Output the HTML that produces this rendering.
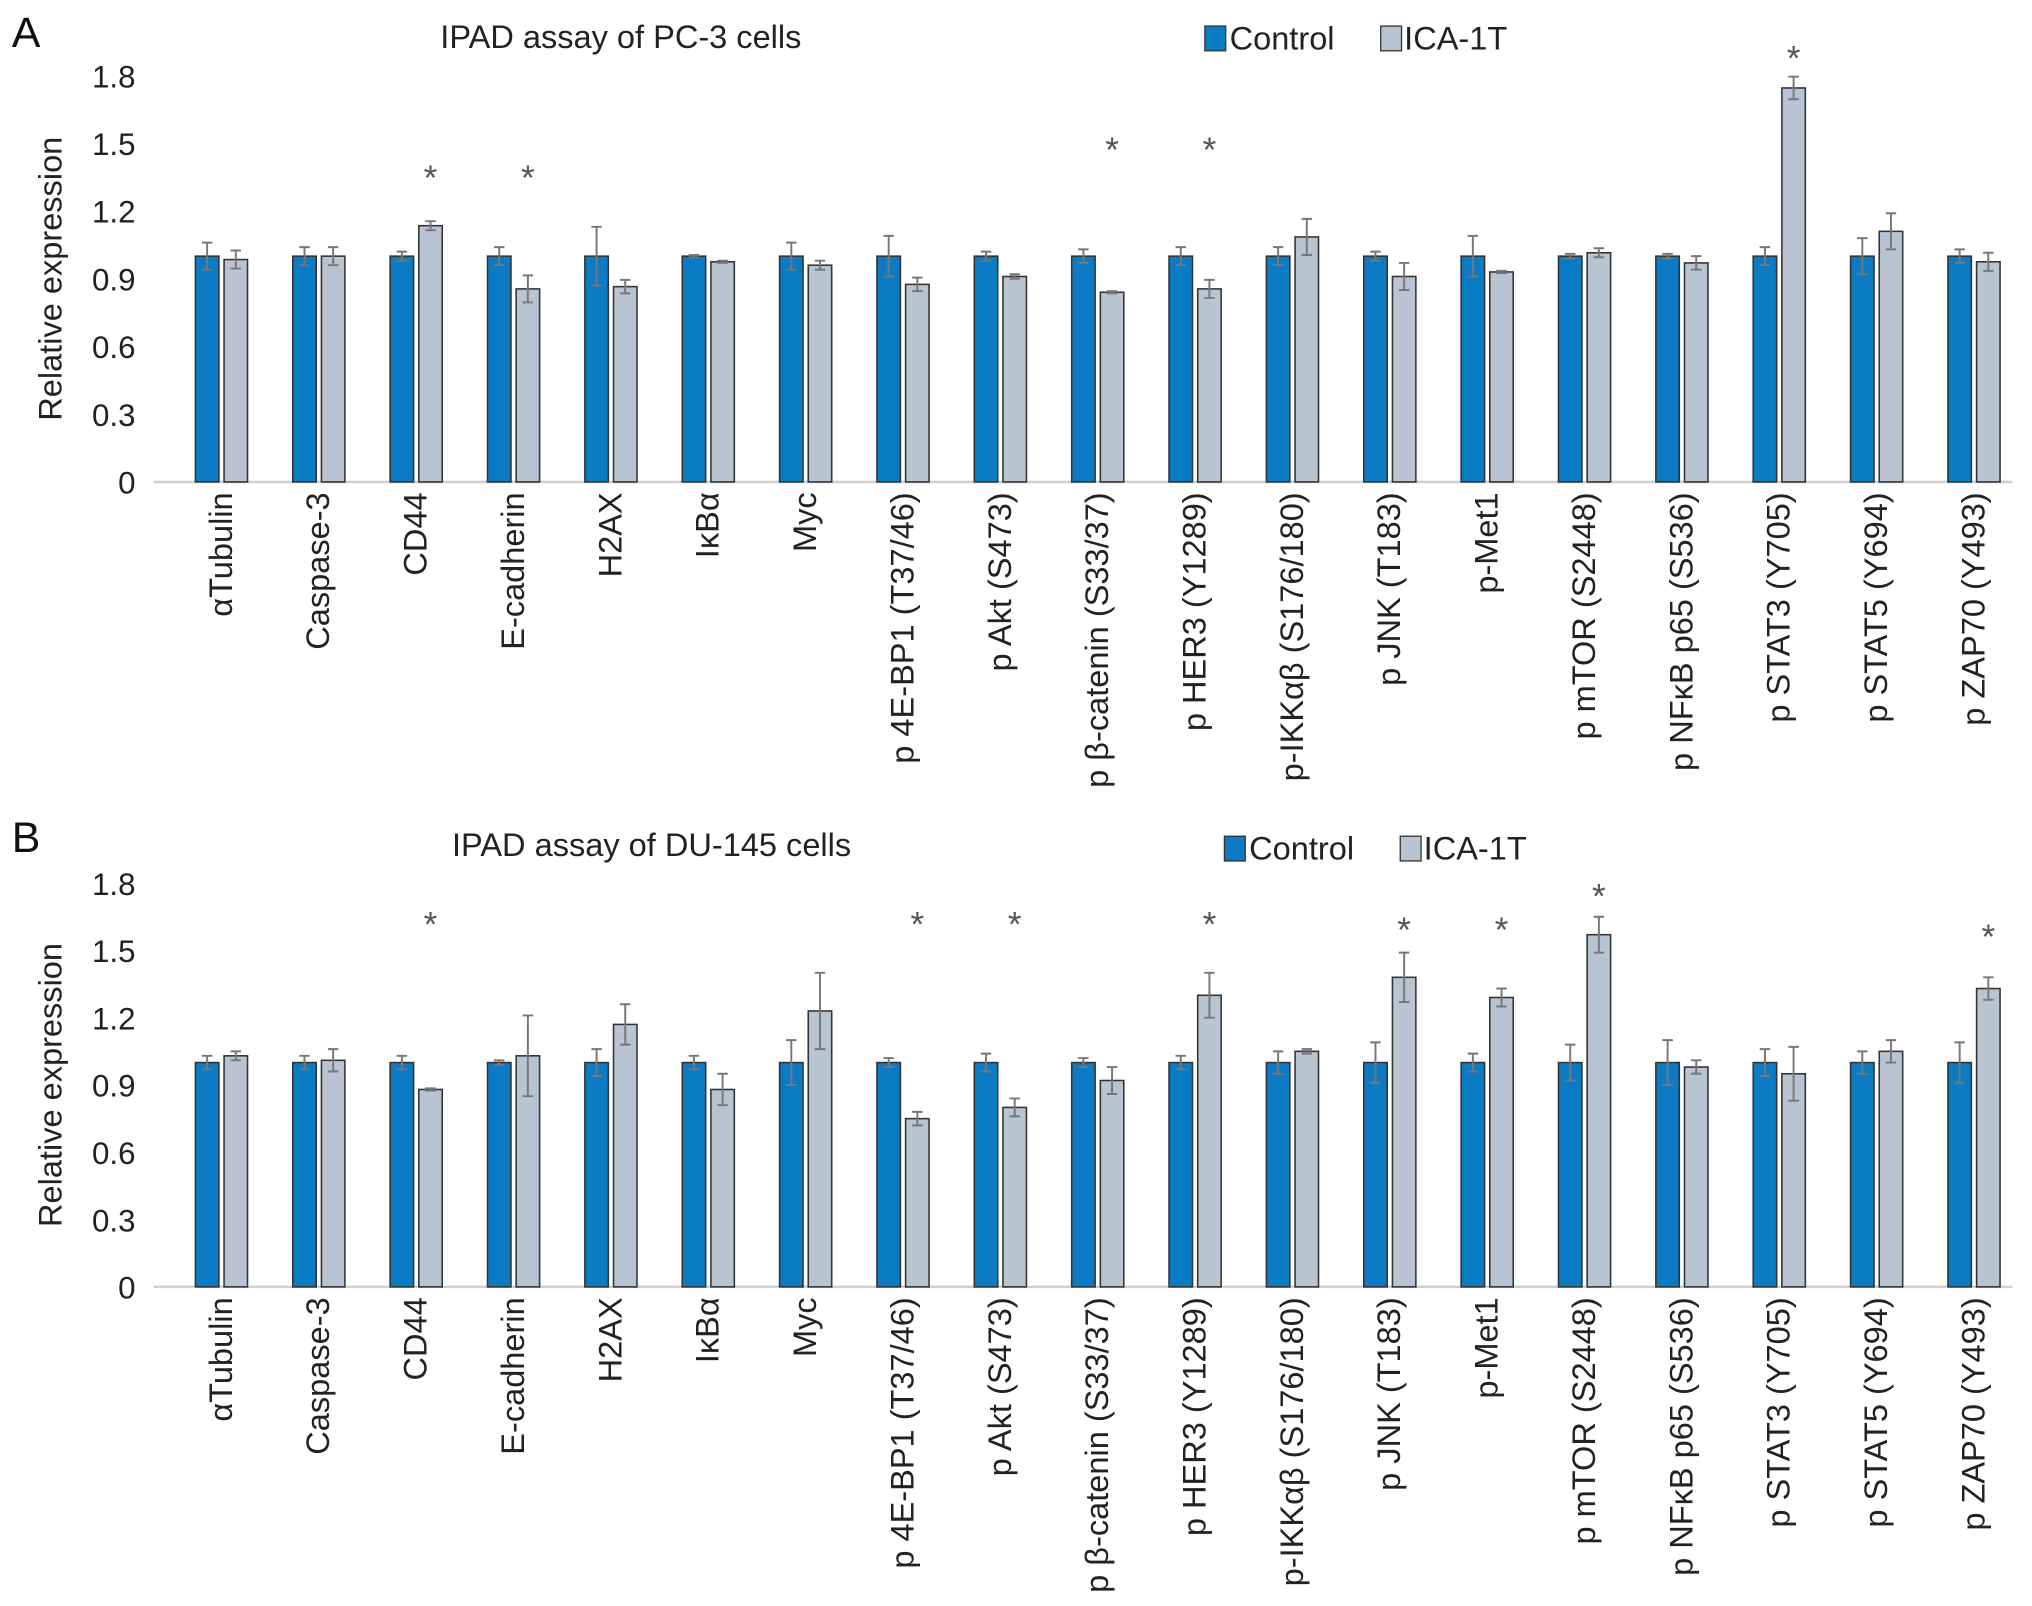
<!DOCTYPE html>
<html><head><meta charset="utf-8"><style>
html,body{margin:0;padding:0;background:#fff;}
svg{display:block;font-family:"Liberation Sans",Arial,sans-serif;}
</style></head><body>
<svg id="chart" width="2032" height="1606" viewBox="0 0 1560 1233" xmlns="http://www.w3.org/2000/svg"></svg>
<script>
const categories = ["αTubulin","Caspase-3","CD44","E-cadherin","H2AX","IκBα","Myc","p 4E-BP1 (T37/46)","p Akt (S473)","p β-catenin (S33/37)","p HER3 (Y1289)","p-IKKαβ (S176/180)","p JNK (T183)","p-Met1","p mTOR (S2448)","p NFκB p65 (S536)","p STAT3 (Y705)","p STAT5 (Y694)","p ZAP70 (Y493)"];
const yTicks = [0,0.3,0.6,0.9,1.2,1.5,1.8];
const yTickLabels = ["0","0.3","0.6","0.9","1.2","1.5","1.8"];
// Panel A (PC-3)
const ctrlA = [1,1,1,1,1,1,1,1,1,1,1,1,1,1,1,1,1,1,1];
const ctrlErrA = [0.06,0.04,0.02,0.04,0.13,0.005,0.06,0.09,0.02,0.03,0.04,0.04,0.02,0.09,0.01,0.01,0.04,0.08,0.03];
const icaA = [0.985,1.0,1.135,0.855,0.865,0.975,0.96,0.875,0.91,0.84,0.855,1.085,0.91,0.93,1.015,0.97,1.745,1.11,0.975];
const icaErrA = [0.04,0.04,0.02,0.06,0.03,0.005,0.02,0.03,0.01,0.005,0.04,0.08,0.06,0.005,0.02,0.03,0.05,0.08,0.04];
const starsA = [null,null,1.385,1.385,null,null,null,null,null,1.51,1.51,null,null,null,null,null,1.915,null,null];
// Panel B (DU-145)
const ctrlB = [1,1,1,1,1,1,1,1,1,1,1,1,1,1,1,1,1,1,1];
const ctrlErrB = [0.03,0.03,0.03,0.01,0.06,0.03,0.1,0.02,0.04,0.02,0.03,0.05,0.09,0.04,0.08,0.1,0.06,0.05,0.09];
const icaB = [1.03,1.01,0.88,1.03,1.17,0.88,1.23,0.75,0.8,0.92,1.3,1.05,1.38,1.29,1.57,0.98,0.95,1.05,1.33];
const icaErrB = [0.02,0.05,0.005,0.18,0.09,0.07,0.17,0.03,0.04,0.06,0.1,0.01,0.11,0.04,0.08,0.03,0.12,0.05,0.05];
const starsB = [null,null,1.655,null,null,null,null,1.655,1.655,null,1.655,null,1.63,1.63,1.78,null,null,null,1.6];

const NS = "http://www.w3.org/2000/svg";
const svg = document.getElementById('chart');
function mk(tag, attrs, parent){const e=document.createElementNS(NS,tag);for(const k in attrs)e.setAttribute(k,attrs[k]);(parent||svg).appendChild(e);return e;}

function panel(p){
  const g = mk('g',{});
  
  
  const y = v => p.zero - v*(p.zero-p.top)/1.8;
  const x0 = 170, step = 74.75, bw = 18;
  const cx = i => x0 + i*step;
  const L = mk('text',{x:9,y:p.letterY,'font-size':33,fill:'#111'},g); L.textContent=p.letter;
   
  const T = mk('text',{x:p.titleX,y:p.titleY,'font-size':25,fill:'#222'},g); T.textContent=p.title;
   
  const lg = mk('g',{},g);
   
  const r1=mk('rect',{x:p.legX,y:p.legY-18,width:16,height:19,fill:'#0a7bc4',stroke:'#333','stroke-width':1},lg);
   
  const t1=mk('text',{x:p.legX+19,y:p.legY,'font-size':25,fill:'#222'},lg); t1.textContent='Control';
   
  const r2=mk('rect',{x:p.legX+135,y:p.legY-18,width:16,height:19,fill:'#b8c4d2',stroke:'#333','stroke-width':1},lg);
   
  const t2=mk('text',{x:p.legX+153,y:p.legY,'font-size':25,fill:'#222'},lg); t2.textContent='ICA-1T';
   
  yTicks.forEach((v,i)=>{
    const t=mk('text',{x:104,y:y(v)+9,'font-size':24,'text-anchor':'end',fill:'#222'},g);
    t.textContent=yTickLabels[i];
     
  });
  const yt=mk('text',{transform:`translate(47,${(p.top+p.zero)/2}) rotate(-90)`,'font-size':25,'text-anchor':'middle',fill:'#222'},g);
  yt.textContent='Relative expression';
   
  const ax=mk('line',{x1:118,x2:1545,y1:p.zero,y2:p.zero,stroke:'#d0d0d0','stroke-width':2},g);
   
  function err(xc,v,e,parent){
    const l=mk('path',{d:`M${xc},${y(v-e)}V${y(v+e)}M${xc-4},${y(v+e)}H${xc+4}M${xc-4},${y(v-e)}H${xc+4}`,stroke:'#777','stroke-width':1.5,fill:'none'},parent);
     
  }
  categories.forEach((c,i)=>{
    const xc=cx(i);
    const b1=mk('rect',{x:xc-bw-2,y:y(p.ctrl[i]),width:bw,height:p.zero-y(p.ctrl[i]),fill:'#0a7bc4',stroke:'#333','stroke-width':1.2},g);
     
    err(xc-bw/2-2,p.ctrl[i],p.ctrlErr[i],g);
    const b2=mk('rect',{x:xc+2,y:y(p.ica[i]),width:bw,height:p.zero-y(p.ica[i]),fill:'#b8c4d2',stroke:'#333','stroke-width':1.2},g);
     
    err(xc+2+bw/2,p.ica[i],p.icaErr[i],g);
    if(p.stars[i]!==null){
      const s=mk('text',{x:xc+bw/2+2,y:y(p.stars[i])+16,'font-size':27,'text-anchor':'middle',fill:'#555'},g);
      s.textContent='*';
       
    }
    const lab=mk('text',{transform:`translate(${xc+8},${p.zero+8}) rotate(-90)`,'font-size':25,'text-anchor':'end',fill:'#222'},g);
    lab.textContent=c;
     
  });
}
panel({key:'pc3',letter:'A',letterY:36,title:'IPAD assay of PC-3 cells',titleX:338,titleY:37,legX:925,legY:38,top:58,zero:370,
  ctrl:ctrlA,ctrlErr:ctrlErrA,ica:icaA,icaErr:icaErrA,stars:starsA});
panel({key:'du145',letter:'B',letterY:654,title:'IPAD assay of DU-145 cells',titleX:347,titleY:657,legX:940,legY:660,top:678,zero:988,
  ctrl:ctrlB,ctrlErr:ctrlErrB,ica:icaB,icaErr:icaErrB,stars:starsB});
</script>
</body></html>
